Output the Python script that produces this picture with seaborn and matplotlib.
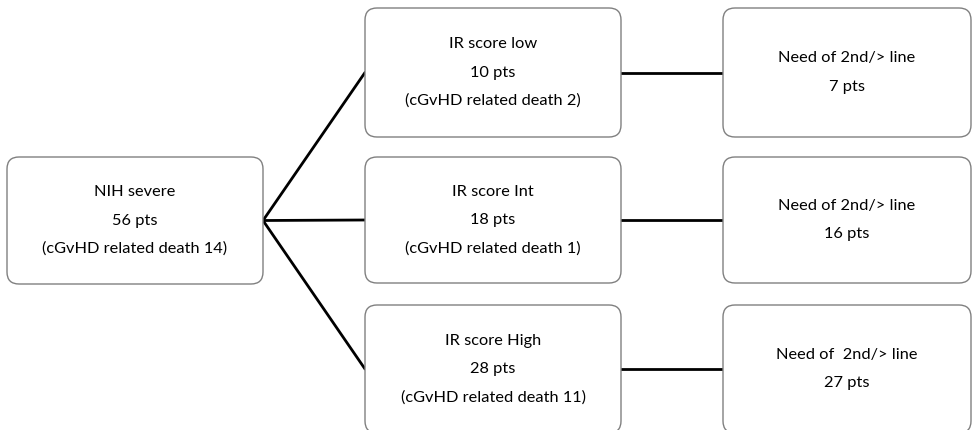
import matplotlib
matplotlib.use("Agg")
import matplotlib.pyplot as plt
import seaborn as sns
import pandas as pd
from matplotlib.patches import FancyBboxPatch

# flowchart content
root_text = ["NIH severe", "56 pts", "(cGvHD related death 14)"]
group_names = ["IR score low", "IR score Int", "IR score High"]
group_pts = [10, 18, 28]
group_deaths = [2, 1, 11]
need_label = ["Need of 2nd/> line", "Need of 2nd/> line", "Need of  2nd/> line"]
need_pts = [7, 16, 27]

sns.set_theme(style="white")
plt.rcParams['font.family'] = ['Lato', 'DejaVu Sans']

fig = plt.figure(figsize=(9.72, 4.30), dpi=100)
ax = fig.add_axes([0, 0, 1, 1])

def box(x0, y0, x1, y1, lines):
    r = 12
    p = FancyBboxPatch((x0 + r, y0 + r), (x1 - x0) - 2 * r, (y1 - y0) - 2 * r,
                       boxstyle=f"round,pad={r}", fc="white", ec="#808080", lw=1.0,
                       zorder=2)
    ax.add_patch(p)
    cy = (y0 + y1) / 2
    n = len(lines)
    for i, t in enumerate(lines):
        ax.text((x0 + x1) / 2, cy + (i - (n - 1) / 2) * 28.5, t, ha="center",
                va="center", fontsize=11.8, color="black", zorder=3)

root = (7, 157, 263, 284)
mid_y = [(8, 137), (157, 283), (305, 433)]
mid_x = (365, 621)
right_x = (723, 971)

box(*root, root_text)
root_cy = (root[1] + root[3]) / 2

conn = []
for i, (y0, y1) in enumerate(mid_y):
    cy = (y0 + y1) / 2
    box(mid_x[0], y0, mid_x[1], y1,
        [group_names[i], f"{group_pts[i]} pts", f"(cGvHD related death {group_deaths[i]})"])
    box(right_x[0], y0, right_x[1], y1, [need_label[i], f"{need_pts[i]} pts"])
    conn.append(pd.DataFrame({"x": [root[2], mid_x[0]], "y": [root_cy, cy], "seg": f"a{i}"}))
    conn.append(pd.DataFrame({"x": [mid_x[1], right_x[0]], "y": [cy, cy], "seg": f"b{i}"}))

lines = pd.concat(conn, ignore_index=True)
sns.lineplot(data=lines, x="x", y="y", units="seg", estimator=None, color="black",
             lw=2.0, sort=False, ax=ax, zorder=1)
ax.set_xlim(0, 972)
ax.set_ylim(430, 0)
ax.axis("off")

fig.savefig("out.png", dpi=100)
